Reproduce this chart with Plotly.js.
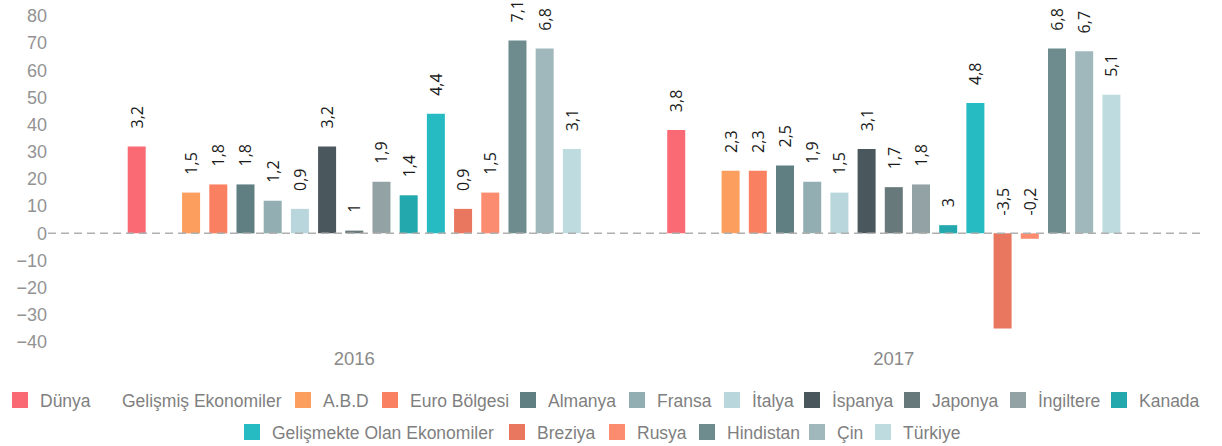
<!DOCTYPE html>
<html><head><meta charset="utf-8">
<script src="https://cdn.plot.ly/plotly-3.0.1.min.js"></script>
<style>html,body{margin:0;padding:0;background:#fff}#chart{width:1222px;height:446px}</style>
</head><body><div id="chart"></div><script>
const years = ['2016', '2017'];
const seriesNames = ['Dünya', 'Gelişmiş Ekonomiler', 'A.B.D', 'Euro Bölgesi', 'Almanya', 'Fransa', 'İtalya', 'İspanya', 'Japonya', 'İngiltere', 'Kanada', 'Gelişmekte Olan Ekonomiler', 'Breziya', 'Rusya', 'Hindistan', 'Çin', 'Türkiye'];
const values2016 = [32, null, 15, 18, 18, 12, 9, 32, 1, 19, 14, 44, 9, 15, 71, 68, 31];
const values2017 = [38, null, 23, 23, 25, 19, 15, 31, 17, 18, 3, 48, -35, -2, 68, 67, 51];
const labels2016 = ['3,2', '', '1,5', '1,8', '1,8', '1,2', '0,9', '3,2', '1', '1,9', '1,4', '4,4', '0,9', '1,5', '7,1', '6,8', '3,1'];
const labels2017 = ['3,8', '', '2,3', '2,3', '2,5', '1,9', '1,5', '3,1', '1,7', '1,8', '3', '4,8', '-3,5', '-0,2', '6,8', '6,7', '5,1'];
const yTicks = [-40, -30, -20, -10, 0, 10, 20, 30, 40, 50, 60, 70, 80];

const colors = ['#F96A74', 'rgba(0,0,0,0)', '#FB9E5E', '#F98162', '#5F7F82', '#92AEB2', '#B9D6DC', '#4A575C', '#67797A', '#93A2A5', '#22A8AD', '#26BBC3', '#E97760', '#FB8C70', '#6E8C8D', '#A0B8BC', '#BEDCE0'];
// legend layout (text start pixel, row)
const legendTextX = [32, 122, 323, 410, 548, 657, 752, 832, 932, 1038, 1139, 272, 537, 637, 727, 837, 903];
const legendRow = [0, 0, 0, 0, 0, 0, 0, 0, 0, 0, 0, 1, 1, 1, 1, 1, 1];
const W = 1222, H = 446;
const labelGap = 5.5;

const traces = [];
const layout = {
  width: W, height: H,
  margin: {l: 48, r: 19, t: 16, b: 104},
  paper_bgcolor: '#fff', plot_bgcolor: '#fff',
  barmode: 'group', bargap: 0.143, bargroupgap: 0.338,
  xaxis: {type: 'category', range: [-0.5677, 1.5731], showgrid: false, zeroline: false, showline: false, ticks: '',
          ticklabelstandoff: 3,
          tickfont: {family: 'Liberation Sans, Arial, sans-serif', size: 18.5, color: '#8a8a8a'}},
  yaxis: {range: [-40, 80], tickvals: yTicks, showgrid: false, zeroline: false, showline: false, ticks: '',
          tickfont: {family: 'Liberation Sans, Arial, sans-serif', size: 18, color: '#939393'}},
  shapes: [{type: 'line', xref: 'paper', yref: 'y', x0: 0, x1: 1, y0: 0, y1: 0, layer: 'above',
            line: {color: '#b0b0b0', width: 1.5, dash: '8px,5px'}}],
  showlegend: true
};

seriesNames.forEach((name, i) => {
  const lid = i === 0 ? 'legend' : 'legend' + (i + 1);
  const vals = [values2016[i], values2017[i]];
  // visible bars
  traces.push({
    type: 'bar', name: name, x: years, y: vals, offsetgroup: 'g' + i, showlegend: false,
    marker: {color: colors[i]}, hoverinfo: 'skip'
  });
  // value labels placed above max(value, 0)
  traces.push({
    type: 'bar', x: years,
    base: vals.map(v => v === null ? null : Math.max(v, 0)),
    y: vals.map(v => v === null ? null : labelGap),
    text: [labels2016[i], labels2017[i]],
    textposition: 'outside', textangle: -90, constraintext: 'none', cliponaxis: false,
    textfont: {family: 'Open Sans, sans-serif', size: 16, color: '#1a1a1a'},
    offsetgroup: 'g' + i, showlegend: false, hoverinfo: 'skip',
    marker: {color: 'rgba(0,0,0,0)'}
  });
  // legend entry (larger swatch)
  traces.push({
    type: 'bar', name: name, x: years, y: [null, null], offsetgroup: 'g' + i, legend: lid, showlegend: true,
    marker: {color: colors[i], line: {color: colors[i], width: 4}}, hoverinfo: 'skip'
  });
  layout[lid] = {
    orientation: 'h', xref: 'container', yref: 'container',
    x: Math.max(0, (legendTextX[i] - 40) / W), xanchor: 'left',
    y: legendRow[i] === 0 ? 1 - 400 / H : 1 - 432 / H, yanchor: 'middle',
    bgcolor: 'rgba(0,0,0,0)', borderwidth: 0,
    font: {family: 'Liberation Sans, Arial, sans-serif', size: 17.5, color: '#7f7f7f'}
  };
});

Plotly.newPlot('chart', traces, layout, {displayModeBar: false, staticPlot: true});
</script></body></html>
